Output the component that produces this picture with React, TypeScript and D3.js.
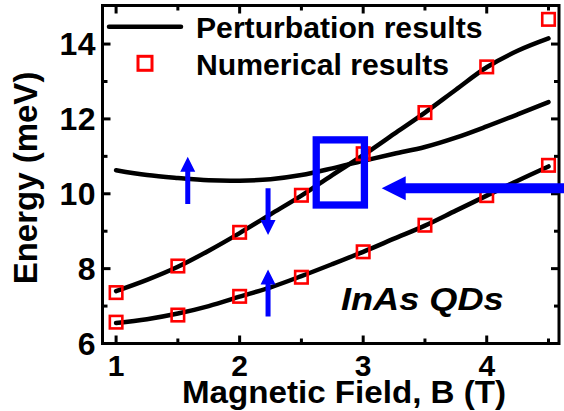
import React from "react";
import * as d3 from "d3";

// Magnetic field sample points (T)
const fieldPoints = [1, 1.5, 2, 2.5, 3, 3.5, 4, 4.5];
// Numerical results (meV)
const numericalLower = [6.57, 6.76, 7.26, 7.77, 8.45, 9.16, 9.95, 10.76];
const numericalUpper = [7.36, 8.07, 8.97, 9.96, 11.07, 12.17, 13.39, 14.66];

// Perturbation curves sampled every 0.25 T
const curveField = [1, 1.25, 1.5, 1.75, 2, 2.25, 2.5, 2.75, 3, 3.25, 3.5, 3.75, 4, 4.25, 4.5];
const perturbLower = [6.55, 6.65, 6.8, 7.0, 7.25, 7.5, 7.8, 8.12, 8.45, 8.8, 9.15, 9.55, 9.95, 10.35, 10.73];
const perturbSteep = [7.4, 7.7, 8.05, 8.48, 8.95, 9.45, 9.95, 10.5, 11.03, 11.6, 12.17, 12.78, 13.38, 13.82, 14.15];
const perturbFlat = [10.63, 10.5, 10.42, 10.36, 10.35, 10.39, 10.5, 10.68, 10.88, 11.07, 11.25, 11.5, 11.8, 12.12, 12.45];

const xTicks = [1, 2, 3, 4];
const xMinorTicks = [1.5, 2.5, 3.5, 4.5];
const yTicks = [6, 8, 10, 12, 14];
const yMinorTicks = [7, 9, 11, 13];

// Blue markers (field in T, energy in meV)
const smallArrows = [
  { x: 1.58, from: 9.73, to: 10.99 },
  { x: 2.23, from: 10.15, to: 8.9 },
  { x: 2.23, from: 6.72, to: 7.98 },
];
const crossingBox = { x0: 2.62, x1: 3.01, y0: 9.7, y1: 11.44 };
const pointerArrow = { from: 4.66, to: 3.15, y: 10.15 };

const W = 564;
const H = 411;
const FONT = "'Liberation Sans', Arial, sans-serif";

export default function App() {
  const left = 102.5, right = 559, top = 5.5, bottom = 343.5;
  const x = d3.scaleLinear().domain([0.89, 4.585]).range([left, right]);
  const y = d3.scaleLinear().domain([6, 15.03]).range([bottom, top]);

  const line = d3
    .line<number>()
    .x((_, i) => x(curveField[i]))
    .y((d) => y(d))
    .curve(d3.curveCatmullRom.alpha(0.5));

  const sq = 12.5;
  const blue = "#0000ff";

  const vArrow = (a: { x: number; from: number; to: number }, i: number) => {
    const cx = x(a.x);
    const y0 = y(a.from);
    const y1 = y(a.to);
    const dir = y1 < y0 ? -1 : 1;
    const hl = 15, hw = 7.5, sw = 2.5;
    const yb = y1 - dir * hl;
    const pts = [
      [cx - sw, y0],
      [cx - sw, yb],
      [cx - hw, yb],
      [cx, y1],
      [cx + hw, yb],
      [cx + sw, yb],
      [cx + sw, y0],
    ];
    return <polygon key={i} points={pts.map((p) => p.join(",")).join(" ")} fill={blue} />;
  };

  const pa = (() => {
    const x0 = x(pointerArrow.from);
    const x1 = x(pointerArrow.to);
    const cy = y(pointerArrow.y);
    const hl = 24, hw = 12, sw = 5;
    const pts = [
      [x0, cy - sw],
      [x1 + hl, cy - sw],
      [x1 + hl, cy - hw],
      [x1, cy],
      [x1 + hl, cy + hw],
      [x1 + hl, cy + sw],
      [x0, cy + sw],
    ];
    return pts.map((p) => p.join(",")).join(" ");
  })();

  return (
    <svg width={W} height={H} style={{ position: "absolute", left: 0, top: 0 }} fontFamily={FONT}>
      <rect width={W} height={H} fill="#fff" />

      {/* perturbation curves */}
      {[perturbLower, perturbSteep, perturbFlat].map((s, i) => (
        <path key={i} d={line(s) || ""} fill="none" stroke="#000" strokeWidth={4.5} strokeLinecap="round" />
      ))}

      {/* numerical results */}
      {[numericalLower, numericalUpper].map((s, si) =>
        s.map((v, i) => (
          <rect
            key={`${si}-${i}`}
            x={x(fieldPoints[i]) - sq / 2}
            y={y(v) - sq / 2}
            width={sq}
            height={sq}
            fill="none"
            stroke="#ff0000"
            strokeWidth={2.6}
          />
        ))
      )}

      {/* frame */}
      <rect x={left} y={top} width={right - left} height={bottom - top} fill="none" stroke="#000" strokeWidth={3} />

      {/* ticks */}
      {xTicks.map((t) => (
        <g key={`xt${t}`}>
          <line x1={x(t)} x2={x(t)} y1={bottom} y2={bottom - 8} stroke="#000" strokeWidth={3} />
          <line x1={x(t)} x2={x(t)} y1={top} y2={top + 8} stroke="#000" strokeWidth={3} />
          <text x={x(t)} y={376} textAnchor="middle" fontSize={30} fontWeight="bold">
            {t}
          </text>
        </g>
      ))}
      {xMinorTicks.map((t) => (
        <g key={`xm${t}`}>
          <line x1={x(t)} x2={x(t)} y1={bottom} y2={bottom - 5} stroke="#000" strokeWidth={3} />
          <line x1={x(t)} x2={x(t)} y1={top} y2={top + 5} stroke="#000" strokeWidth={3} />
        </g>
      ))}
      {yTicks.map((t) => (
        <g key={`yt${t}`}>
          <line x1={left} x2={left + 8} y1={y(t)} y2={y(t)} stroke="#000" strokeWidth={3} />
          <line x1={right} x2={right - 8} y1={y(t)} y2={y(t)} stroke="#000" strokeWidth={3} />
          <text x={96} y={y(t) + 11} textAnchor="end" fontSize={32} fontWeight="bold" letterSpacing={0.5}>
            {t}
          </text>
        </g>
      ))}
      {yMinorTicks.map((t) => (
        <g key={`ym${t}`}>
          <line x1={left} x2={left + 5} y1={y(t)} y2={y(t)} stroke="#000" strokeWidth={3} />
          <line x1={right} x2={right - 5} y1={y(t)} y2={y(t)} stroke="#000" strokeWidth={3} />
        </g>
      ))}

      {/* axis titles */}
      <text
        transform="translate(344,403) scale(1.07,1)"
        textAnchor="middle"
        fontSize={31}
        fontWeight="bold"
      >
        Magnetic Field, B (T)
      </text>
      <text
        transform="translate(37,178) rotate(-90)"
        textAnchor="middle"
        fontSize={33}
        fontWeight="bold"
      >
        Energy (meV)
      </text>

      {/* legend */}
      <line x1={109} x2={181} y1={26.7} y2={26.7} stroke="#000" strokeWidth={4.5} strokeLinecap="round" />
      <text transform="translate(196,37.5) scale(1.04,1)" fontSize={29} fontWeight="bold">
        Perturbation results
      </text>
      <rect x={145 - 7} y={63.3 - 7} width={14} height={14} fill="none" stroke="#ff0000" strokeWidth={3} />
      <text transform="translate(196,75) scale(1.04,1)" fontSize={29} fontWeight="bold">
        Numerical results
      </text>

      <text
        transform="translate(341,309.5) scale(1.13,1)"
        fontSize={32}
        fontWeight="bold"
        fontStyle="italic"
      >
        InAs QDs
      </text>

      {/* anticrossing markers */}
      {smallArrows.map(vArrow)}
      <rect
        x={x(crossingBox.x0)}
        y={y(crossingBox.y1)}
        width={x(crossingBox.x1) - x(crossingBox.x0)}
        height={y(crossingBox.y0) - y(crossingBox.y1)}
        fill="none"
        stroke={blue}
        strokeWidth={7.3}
      />
      <polygon points={pa} fill={blue} />
    </svg>
  );
}
